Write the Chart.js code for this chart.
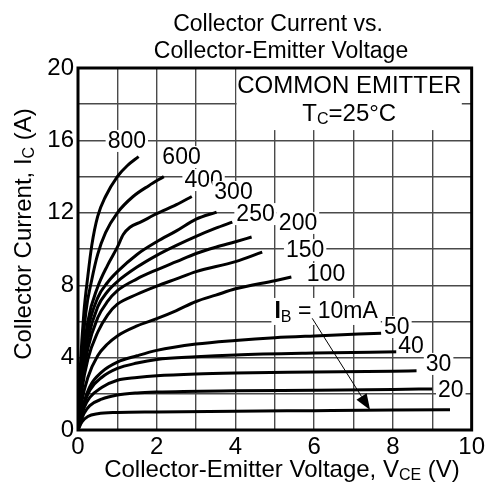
<!DOCTYPE html>
<html><head><meta charset="utf-8">
<script src="https://cdn.jsdelivr.net/npm/chart.js@4.4.1/dist/chart.umd.min.js"></script>
<style>html,body{margin:0;padding:0;background:#fff}canvas{display:block}</style>
</head><body>
<canvas id="c" width="488" height="489"></canvas>
<script>
const FONT = '"Liberation Sans", Arial, Helvetica, sans-serif';

// Tick labels
const xTickLabels = [0, 2, 4, 6, 8, 10];
const yTickLabels = [0, 4, 8, 12, 16, 20];

// Base current (mA) for each curve
const ibValues = ['800', '600', '400', '300', '250', '200', '150', '100', '50', '40', '30', '20', '10'];

// Curves: [V_CE (V), I_C (A)]
const ib800 = [[0,0],[0.06,3.5],[0.15,6.5],[0.25,8.5],[0.35,10.2],[0.5,11.8],[0.7,12.9],[1.0,14.0],[1.25,14.6],[1.54,15.1]];
const ib600 = [[0,0],[0.08,3.5],[0.2,6.5],[0.35,8.3],[0.5,9.7],[0.7,10.9],[1.0,12.0],[1.4,12.9],[1.8,13.5],[2.18,14.0]];
const ib400 = [[0,0],[0.1,3.3],[0.25,6.0],[0.5,7.9],[0.75,9.1],[1.0,10.1],[1.15,10.8],[1.32,11.2],[1.6,11.5],[2.0,11.95],[2.5,12.45],[2.89,12.9]];
const ib300 = [[0,0],[0.1,3.0],[0.25,5.5],[0.5,7.3],[0.75,8.15],[1.0,8.75],[1.5,9.7],[2.0,10.4],[2.5,11.0],[3.0,11.65],[3.52,12.04]];
const ib250 = [[0,0],[0.1,2.8],[0.25,5.0],[0.5,6.8],[0.75,7.65],[1.0,8.2],[1.5,9.0],[2.0,9.65],[2.5,10.2],[3.0,10.7],[3.5,11.15],[3.92,11.49]];
const ib200 = [[0,0],[0.1,2.5],[0.25,4.5],[0.5,6.2],[0.75,7.1],[1.0,7.7],[1.5,8.35],[2.0,8.85],[2.5,9.3],[3.0,9.75],[3.5,10.1],[4.0,10.4],[4.41,10.66]];
const ib150 = [[0,0],[0.1,2.2],[0.25,3.9],[0.5,5.4],[0.75,6.35],[1.0,6.95],[1.5,7.5],[2.0,7.95],[2.5,8.35],[3.0,8.75],[4.0,9.3],[4.68,9.83]];
const ib100 = [[0,0],[0.1,1.6],[0.25,2.9],[0.5,4.1],[0.75,4.75],[1.0,5.2],[1.5,5.75],[2.0,6.15],[2.5,6.6],[3.0,7.1],[3.5,7.45],[4.0,7.8],[5.0,8.25],[5.42,8.45]];
const ib50  = [[0,0],[0.15,1.5],[0.3,2.4],[0.6,3.2],[1.0,3.75],[1.5,4.1],[2.0,4.4],[3.0,4.75],[4.0,4.95],[5.0,5.1],[6.0,5.2],[7.7,5.35]];
const ib40  = [[0,0],[0.15,1.4],[0.3,2.2],[0.6,2.9],[1.0,3.4],[1.5,3.7],[2.0,3.9],[3.0,4.05],[4.0,4.15],[6.0,4.25],[8.15,4.32]];
const ib30  = [[0,0],[0.15,1.2],[0.3,1.8],[0.6,2.35],[1.0,2.75],[1.5,2.9],[2.0,3.0],[3.0,3.1],[4.0,3.15],[6.0,3.2],[8.0,3.25],[8.6,3.27]];
const ib20  = [[0,0],[0.15,0.9],[0.3,1.35],[0.6,1.7],[1.0,1.93],[1.5,2.05],[2.0,2.1],[4.0,2.17],[6.0,2.2],[8.0,2.24],[9.0,2.27]];
const ib10  = [[0,0],[0.1,0.45],[0.25,0.75],[0.5,0.9],[1.0,0.97],[2.0,1.0],[4.0,1.04],[6.0,1.07],[8.0,1.1],[9.45,1.12]];
const curves = [ib800, ib600, ib400, ib300, ib250, ib200, ib150, ib100, ib50, ib40, ib30, ib20, ib10];

// Curve label anchors in data units (V, A), for the first 12 curves
const labelAnchors = [[1.24,15.97],[2.63,15.08],[3.19,13.81],[3.95,13.15],[4.51,11.93],[5.59,11.44],[5.77,9.94],[6.30,8.62],[8.10,5.69],[8.46,4.64],[9.16,3.65],[9.47,2.21]];
// IB = 10mA annotation: text anchor, arrow start, arrow tip (data units)
const ibTextAt = [4.99, 6.19];
const arrowFrom = [5.95, 6.17];
const arrowTo = [7.42, 1.10];
// Legend box region (data units)
const boxFrom = [4.03, 20];
const boxTo = [9.75, 16.57];
const boxLine1At = [6.89, 18.62];
const boxLine2At = [6.89, 17.07];

function drawParts(ctx, parts, x, y, align) {
  ctx.textAlign = 'left';
  let w = 0;
  parts.forEach(p => { ctx.font = (p.bold ? 'bold ' : '') + p.size + 'px ' + FONT; p.w = ctx.measureText(p.t).width; w += p.w; });
  let cx = align === 'center' ? x - w / 2 : x;
  parts.forEach(p => {
    ctx.font = (p.bold ? 'bold ' : '') + p.size + 'px ' + FONT;
    ctx.fillText(p.t, cx, y + (p.dy || 0));
    cx += p.w;
  });
  return w;
}

const overlay = {
  id: 'overlay',
  beforeDatasetsDraw(chart) {
    const ctx = chart.ctx, xs = chart.scales.x, ys = chart.scales.y;
    ctx.save();
    ctx.fillStyle = '#fff';
    const x0 = xs.getPixelForValue(boxFrom[0]), x1 = xs.getPixelForValue(boxTo[0]);
    const y0 = ys.getPixelForValue(boxFrom[1]), y1 = ys.getPixelForValue(boxTo[1]);
    ctx.fillRect(x0, y0, x1 - x0, y1 - y0);
    ctx.restore();
  },
  afterDatasetsDraw(chart) {
    const ctx = chart.ctx, xs = chart.scales.x, ys = chart.scales.y;
    ctx.save();
    ctx.fillStyle = '#000';
    ctx.textBaseline = 'alphabetic';
    // Legend box text
    drawParts(ctx, [{t: 'COMMON EMITTER', size: 24}], xs.getPixelForValue(boxLine1At[0]), ys.getPixelForValue(boxLine1At[1]), 'center');
    drawParts(ctx, [{t: 'T', size: 24}, {t: 'C', size: 16, dy: 3}, {t: '=25°C', size: 24}], xs.getPixelForValue(boxLine2At[0]), ys.getPixelForValue(boxLine2At[1]), 'center');

    // Curve labels with white background
    ctx.font = '23px ' + FONT;
    ctx.textAlign = 'center';
    ctx.textBaseline = 'middle';
    labelAnchors.forEach((a, i) => {
      const px = xs.getPixelForValue(a[0]), py = ys.getPixelForValue(a[1]);
      const w = ctx.measureText(ibValues[i]).width;
      ctx.fillStyle = '#fff';
      ctx.fillRect(px - w / 2 - 2, py - 11, w + 4, 22);
      ctx.fillStyle = '#000';
      ctx.fillText(ibValues[i], px, py + 1);
    });

    // IB = 10mA
    ctx.textBaseline = 'alphabetic';
    const tx = xs.getPixelForValue(ibTextAt[0]), ty = ys.getPixelForValue(ibTextAt[1]);
    const parts = [{t: 'I', size: 23, bold: true}, {t: 'B', size: 16, dy: 4}, {t: ' = 10mA', size: 23}];
    let tw = 0;
    parts.forEach(p => { ctx.font = (p.bold ? 'bold ' : '') + p.size + 'px ' + FONT; tw += ctx.measureText(p.t).width; });
    ctx.fillStyle = '#fff';
    ctx.fillRect(tx - 3, ty - 20, tw + 6, 27);
    ctx.fillStyle = '#000';
    drawParts(ctx, parts, tx, ty, 'left');

    // Arrow
    const ax = xs.getPixelForValue(arrowFrom[0]), ay = ys.getPixelForValue(arrowFrom[1]);
    const bx = xs.getPixelForValue(arrowTo[0]), by = ys.getPixelForValue(arrowTo[1]);
    const dx = bx - ax, dy = by - ay, L = Math.hypot(dx, dy), ux = dx / L, uy = dy / L;
    const hl = 16, hw = 6;
    ctx.strokeStyle = '#000';
    ctx.lineWidth = 1;
    ctx.beginPath(); ctx.moveTo(ax, ay); ctx.lineTo(bx - ux * hl, by - uy * hl); ctx.stroke();
    ctx.beginPath();
    ctx.moveTo(bx, by);
    ctx.lineTo(bx - ux * hl - uy * hw, by - uy * hl + ux * hw);
    ctx.lineTo(bx - ux * hl + uy * hw, by - uy * hl - ux * hw);
    ctx.closePath(); ctx.fill();
    ctx.restore();
  },
  afterDraw(chart) {
    const ctx = chart.ctx, ca = chart.chartArea;
    ctx.save();
    ctx.strokeStyle = '#000';
    ctx.lineWidth = 3;
    ctx.strokeRect(ca.left, ca.top, ca.right - ca.left, ca.bottom - ca.top);
    ctx.fillStyle = '#000';
    ctx.textBaseline = 'alphabetic';
    // Title
    drawParts(ctx, [{t: 'Collector Current vs.', size: 23}], 278, 31, 'center');
    drawParts(ctx, [{t: 'Collector-Emitter Voltage', size: 23}], 281, 58, 'center');
    // X axis title
    drawParts(ctx, [{t: 'Collector-Emitter Voltage, V', size: 24}, {t: 'CE', size: 16, dy: 3}, {t: ' (V)', size: 24}], 282, 477, 'center');
    // Y axis title
    ctx.translate(31, 234);
    ctx.rotate(-Math.PI / 2);
    drawParts(ctx, [{t: 'Collector Current, I', size: 24}, {t: 'C', size: 16, dy: 3}, {t: ' (A)', size: 24}], 0, 0, 'center');
    ctx.restore();
  }
};

const datasets = curves.map((c, i) => ({
  label: ibValues[i] + ' mA',
  data: c.map(p => ({x: p[0], y: p[1]})),
  showLine: true,
  borderColor: '#000',
  borderWidth: 3,
  pointRadius: 0,
  cubicInterpolationMode: 'monotone',
  fill: false
}));

new Chart(document.getElementById('c'), {
  type: 'scatter',
  data: {datasets},
  options: {
    responsive: false,
    animation: false,
    devicePixelRatio: 1,
    layout: {padding: {top: 68, right: 15, left: 0, bottom: 0}},
    plugins: {legend: {display: false}, title: {display: false}, tooltip: {enabled: false}},
    scales: {
      x: {
        type: 'linear', min: 0, max: 10,
        afterFit: s => { s.height = 59; },
        border: {display: false},
        grid: {color: '#4a4a4a', lineWidth: 1.4, drawTicks: false},
        ticks: {
          stepSize: 1, padding: 3, color: '#000', maxRotation: 0, autoSkip: false,
          font: {family: FONT, size: 24},
          callback: v => xTickLabels.includes(v) ? String(v) : ''
        }
      },
      y: {
        type: 'linear', min: 0, max: 20,
        afterFit: s => { s.width = 78; },
        border: {display: false},
        grid: {color: '#4a4a4a', lineWidth: 1.4, drawTicks: false},
        ticks: {
          stepSize: 2, padding: 4, color: '#000', autoSkip: false,
          font: {family: FONT, size: 24},
          callback: v => yTickLabels.includes(v) ? String(v) : ''
        }
      }
    }
  },
  plugins: [overlay]
});
</script>
</body></html>
